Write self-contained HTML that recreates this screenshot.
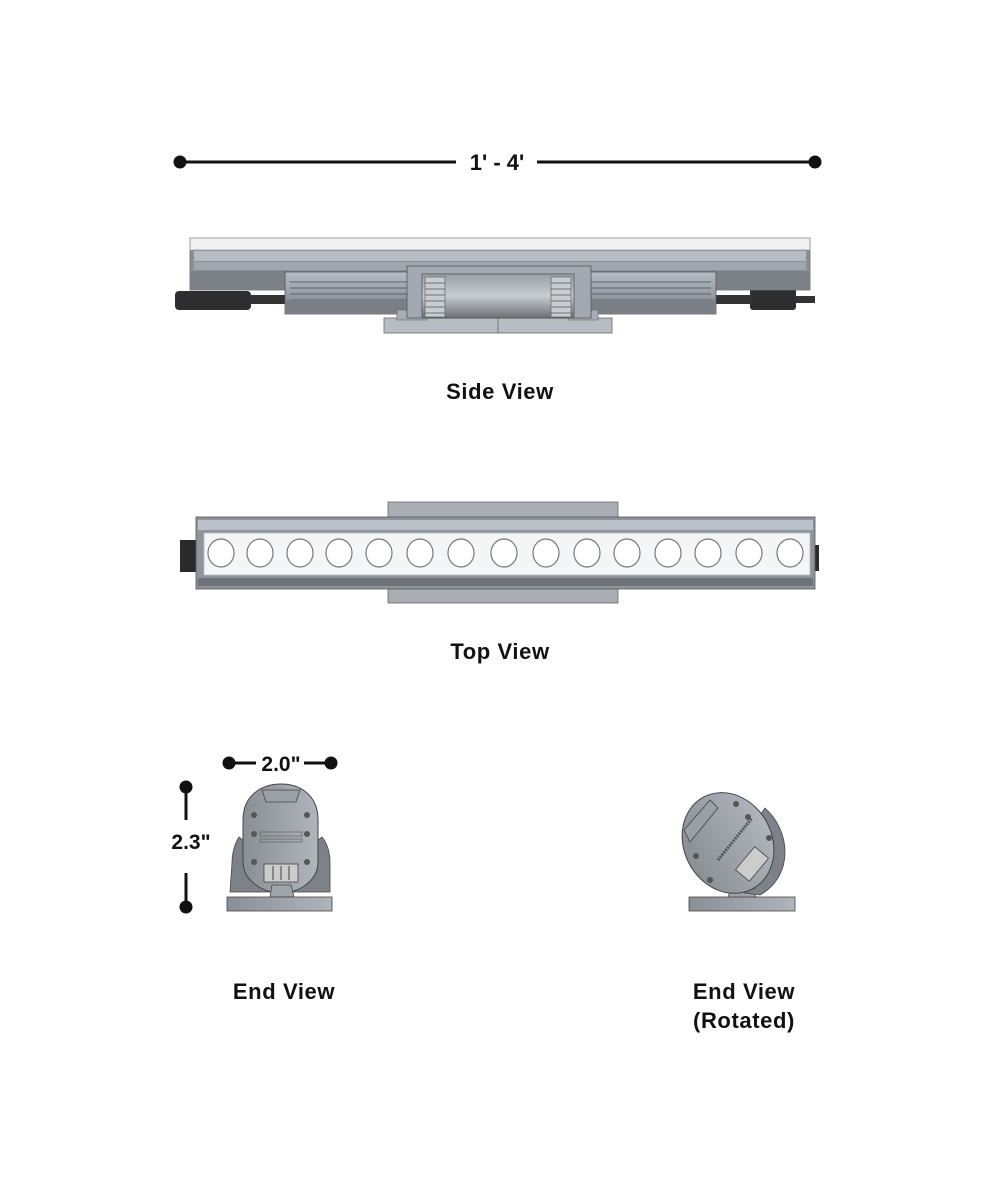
<!DOCTYPE html>
<html><head><meta charset="utf-8"><style>
html,body{margin:0;padding:0;background:#fff;}
svg{display:block;}
text{font-family:"Liberation Sans",sans-serif;font-weight:bold;fill:#111;}
.lb{font-size:22px;letter-spacing:0.6px;}
</style></head><body>
<svg width="1000" height="1200" viewBox="0 0 1000 1200" xmlns="http://www.w3.org/2000/svg">
<defs>
<linearGradient id="g1" x1="0" y1="0" x2="0" y2="1"><stop offset="0" stop-color="#b4bcc4"/><stop offset="1" stop-color="#7a8088"/></linearGradient>
<linearGradient id="g2" x1="0" y1="0" x2="0" y2="1"><stop offset="0" stop-color="#9aa0a8"/><stop offset="0.5" stop-color="#c8ccd2"/><stop offset="1" stop-color="#6c7076"/></linearGradient>
<linearGradient id="g3" x1="0" y1="0" x2="1" y2="0"><stop offset="0" stop-color="#8a8f96"/><stop offset="1" stop-color="#b0b5bb"/></linearGradient>
</defs>
<line x1="180" y1="162" x2="456" y2="162" stroke="#111" stroke-width="3"/>
<line x1="537" y1="162" x2="815" y2="162" stroke="#111" stroke-width="3"/>
<circle cx="180" cy="162" r="6.5" fill="#111"/><circle cx="815" cy="162" r="6.5" fill="#111"/>
<text x="497" y="170" font-size="22" text-anchor="middle">1' - 4'</text>

<rect x="175" y="291" width="76" height="19" rx="4" fill="#2e2e30"/>
<rect x="250" y="295" width="40" height="9" fill="#333"/>
<rect x="750" y="288" width="46" height="22" rx="3" fill="#2e2e30"/>
<rect x="710" y="295" width="42" height="9" fill="#333"/>
<rect x="795" y="296" width="20" height="7" fill="#333"/>
<rect x="190" y="238" width="620" height="52" fill="#8a9098" stroke="#666" stroke-width="0.8"/>
<rect x="190" y="238" width="620" height="12" fill="#eef0f2" stroke="#999" stroke-width="0.8"/>
<rect x="194" y="251" width="612" height="10" fill="#b5bcc4"/>
<rect x="194" y="262" width="612" height="8" fill="#9fa6ae"/>
<rect x="190" y="271" width="620" height="19" fill="#7c8188"/>
<rect x="285" y="272" width="431" height="42" fill="url(#g1)" stroke="#555" stroke-width="0.8"/>
<g stroke="#5c6168" stroke-width="1">
<line x1="290" y1="282" x2="711" y2="282"/><line x1="290" y1="288" x2="711" y2="288"/><line x1="290" y1="294" x2="711" y2="294"/><line x1="290" y1="300" x2="711" y2="300"/>
</g>
<rect x="285" y="300" width="431" height="14" fill="#7a7f86"/>
<rect x="384" y="318" width="228" height="15" fill="#b8bdc3" stroke="#666" stroke-width="0.8"/>
<line x1="498" y1="318" x2="498" y2="333" stroke="#777"/>
<rect x="397" y="310" width="30" height="10" fill="#a7adb3" stroke="#666" stroke-width="0.6"/>
<rect x="568" y="310" width="30" height="10" fill="#a7adb3" stroke="#666" stroke-width="0.6"/>
<rect x="407" y="266" width="184" height="52" fill="#a3a9b0" stroke="#555" stroke-width="0.8"/>
<rect x="422" y="274" width="152" height="44" fill="url(#g2)" stroke="#555" stroke-width="0.8"/>
<g fill="#c8cdd2" stroke="#555" stroke-width="0.6">
<rect x="425" y="277" width="20" height="40"/><rect x="551" y="277" width="20" height="40"/>
</g>
<g stroke="#555" stroke-width="0.7">
<line x1="425" y1="283" x2="445" y2="283"/><line x1="425" y1="289" x2="445" y2="289"/><line x1="425" y1="295" x2="445" y2="295"/><line x1="425" y1="301" x2="445" y2="301"/><line x1="425" y1="307" x2="445" y2="307"/><line x1="425" y1="313" x2="445" y2="313"/>
<line x1="551" y1="283" x2="571" y2="283"/><line x1="551" y1="289" x2="571" y2="289"/><line x1="551" y1="295" x2="571" y2="295"/><line x1="551" y1="301" x2="571" y2="301"/><line x1="551" y1="307" x2="571" y2="307"/><line x1="551" y1="313" x2="571" y2="313"/>
</g>
<text class="lb" x="500" y="399" text-anchor="middle">Side View</text>

<rect x="388" y="502" width="230" height="17" fill="#a9aeb4" stroke="#666" stroke-width="0.8"/>
<rect x="388" y="587" width="230" height="16" fill="#a9aeb4" stroke="#666" stroke-width="0.8"/>
<rect x="180" y="540" width="17" height="32" fill="#2a2a2c"/>
<rect x="813" y="545" width="6" height="26" fill="#2a2a2c"/>
<rect x="196" y="517" width="619" height="72" fill="#8e949b" stroke="#555" stroke-width="0.8"/>
<rect x="198" y="520" width="615" height="10" fill="#b9c0c7"/>
<rect x="198" y="578" width="615" height="8" fill="#6e737a"/>
<rect x="204" y="533" width="606" height="42" fill="#f4f5f6" stroke="#bbb" stroke-width="0.8"/>
<g fill="#fff" stroke="#777" stroke-width="1.2">
<ellipse cx="221" cy="553" rx="13" ry="14"/><ellipse cx="260" cy="553" rx="13" ry="14"/><ellipse cx="300" cy="553" rx="13" ry="14"/><ellipse cx="339" cy="553" rx="13" ry="14"/><ellipse cx="379" cy="553" rx="13" ry="14"/><ellipse cx="420" cy="553" rx="13" ry="14"/><ellipse cx="461" cy="553" rx="13" ry="14"/><ellipse cx="504" cy="553" rx="13" ry="14"/><ellipse cx="546" cy="553" rx="13" ry="14"/><ellipse cx="587" cy="553" rx="13" ry="14"/><ellipse cx="627" cy="553" rx="13" ry="14"/><ellipse cx="668" cy="553" rx="13" ry="14"/><ellipse cx="708" cy="553" rx="13" ry="14"/><ellipse cx="749" cy="553" rx="13" ry="14"/><ellipse cx="790" cy="553" rx="13" ry="14"/>
</g>
<text class="lb" x="500" y="659" text-anchor="middle">Top View</text>

<line x1="229" y1="763" x2="256" y2="763" stroke="#111" stroke-width="3"/>
<line x1="304" y1="763" x2="331" y2="763" stroke="#111" stroke-width="3"/>
<circle cx="229" cy="763" r="6.5" fill="#111"/><circle cx="331" cy="763" r="6.5" fill="#111"/>
<text x="281" y="771" font-size="21" text-anchor="middle">2.0"</text>
<line x1="186" y1="787" x2="186" y2="820" stroke="#111" stroke-width="3"/>
<line x1="186" y1="873" x2="186" y2="907" stroke="#111" stroke-width="3"/>
<circle cx="186" cy="787" r="6.5" fill="#111"/><circle cx="186" cy="907" r="6.5" fill="#111"/>
<text x="191" y="849" font-size="21" text-anchor="middle">2.3"</text>

<path d="M232 863 C232 850 236 842 239 837 L245 842 C240 858 244 880 270 892 L230 892 Z" fill="#7d8288" stroke="#444" stroke-width="0.8"/>
<path d="M330 863 C330 850 326 842 322 837 L316 842 C321 858 317 880 291 892 L330 892 Z" fill="#7d8288" stroke="#444" stroke-width="0.8"/>
<path d="M243 820 C243 795 262 784 281 784 C300 784 318 795 318 820 L318 862 C318 880 300 893 281 893 C262 893 243 880 243 862 Z" fill="url(#g3)" stroke="#444" stroke-width="1"/>
<path d="M262 790 L300 790 L296 802 L266 802 Z" fill="#9aa0a6" stroke="#444" stroke-width="0.8"/>
<g fill="#555"><circle cx="254" cy="815" r="3"/><circle cx="307" cy="815" r="3"/><circle cx="254" cy="834" r="3"/><circle cx="307" cy="834" r="3"/><circle cx="254" cy="862" r="3"/><circle cx="307" cy="862" r="3"/></g>
<rect x="260" y="832" width="42" height="4" fill="none" stroke="#555" stroke-width="0.6"/>
<rect x="260" y="839" width="42" height="3" fill="none" stroke="#555" stroke-width="0.6"/>
<rect x="264" y="864" width="34" height="18" fill="#ccc" stroke="#444" stroke-width="0.8"/>
<line x1="273" y1="866" x2="273" y2="880" stroke="#444"/><line x1="281" y1="866" x2="281" y2="880" stroke="#444"/><line x1="289" y1="866" x2="289" y2="880" stroke="#444"/>
<path d="M270 897 L272 885 L291 885 L294 897 Z" fill="#a0a5ab" stroke="#444" stroke-width="0.8"/>
<rect x="227" y="897" width="105" height="14" fill="url(#g3)" stroke="#444" stroke-width="0.8"/>
<text class="lb" x="284" y="999" text-anchor="middle">End View</text>

<rect x="689" y="897" width="106" height="14" fill="url(#g3)" stroke="#444" stroke-width="0.8"/>
<path d="M728 897 L731 889 L752 889 L756 897 Z" fill="#a0a5ab" stroke="#444" stroke-width="0.8"/>
<path d="M765 808 C790 830 795 875 760 895 L745 893 C775 870 775 840 760 815 Z" fill="#7d8288" stroke="#444" stroke-width="0.8"/>
<path d="M700 870 C715 890 740 895 755 888 L745 880 C730 884 715 878 705 866 Z" fill="#7d8288" stroke="#444" stroke-width="0.8"/>
<ellipse cx="728" cy="843" rx="44" ry="52" transform="rotate(-28 728 843)" fill="url(#g3)" stroke="#444" stroke-width="1"/>
<path d="M684 830 L710 800 L718 808 L690 842 Z" fill="#9aa0a6" stroke="#444" stroke-width="0.8"/>
<g fill="#555"><circle cx="736" cy="804" r="3"/><circle cx="748" cy="817" r="3"/><circle cx="769" cy="838" r="3"/><circle cx="696" cy="856" r="3"/><circle cx="710" cy="880" r="3"/><circle cx="757" cy="855" r="3"/></g>
<line x1="718" y1="860" x2="752" y2="818" stroke="#555" stroke-width="3" stroke-dasharray="2 1"/>
<rect x="737" y="855" width="30" height="18" fill="#ccc" stroke="#444" stroke-width="0.8" transform="rotate(-50 752 864)"/>
<text class="lb" x="744" y="999" text-anchor="middle">End View</text>
<text class="lb" x="744" y="1028" text-anchor="middle">(Rotated)</text>
</svg>
</body></html>
